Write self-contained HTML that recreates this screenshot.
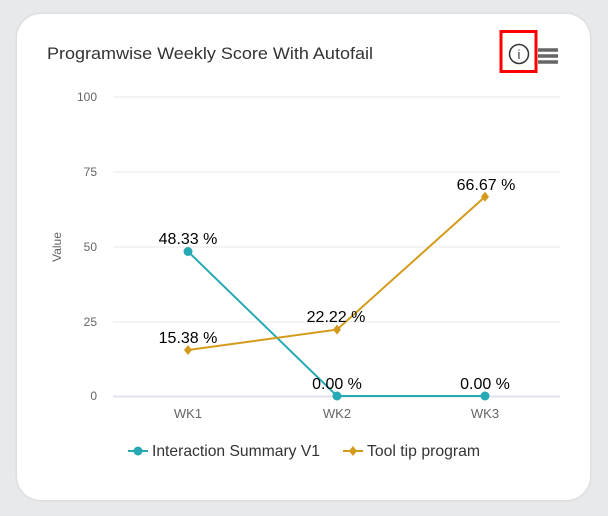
<!DOCTYPE html>
<html><head><style>
body{margin:0;width:608px;height:516px;background:#e8e9eb;overflow:hidden;font-family:"Liberation Sans",Arial,sans-serif}
.card{position:absolute;left:17px;top:14px;width:573px;height:486px;background:#fff;border-radius:24px;box-shadow:0 0 3px rgba(0,0,0,.12)}
</style></head><body>
<div class="card"></div>
<svg width="608" height="516" style="position:absolute;left:0;top:0" font-family="Liberation Sans, Arial, sans-serif">
<text x="47" y="59" font-size="17" fill="#333" textLength="326" lengthAdjust="spacingAndGlyphs">Programwise Weekly Score With Autofail</text>
<rect x="501" y="31.5" width="35" height="40" fill="none" stroke="#f00" stroke-width="3"/>
<circle cx="519" cy="54" r="9.5" fill="none" stroke="#333" stroke-width="1.5"/>
<text x="519" y="59" font-size="13" text-anchor="middle" fill="#333">i</text>
<g stroke="#666" stroke-width="3.5"><line x1="538" y1="50" x2="558" y2="50"/><line x1="538" y1="56" x2="558" y2="56"/><line x1="538" y1="62" x2="558" y2="62"/></g>
<g stroke="#e8e8e8" stroke-width="1">
<line x1="113" y1="97" x2="560" y2="97"/><line x1="113" y1="172" x2="560" y2="172"/><line x1="113" y1="247" x2="560" y2="247"/><line x1="113" y1="322" x2="560" y2="322"/></g>
<line x1="113" y1="396.5" x2="560" y2="396.5" stroke="#dfe2ec" stroke-width="2"/>
<g font-size="12" fill="#666" text-anchor="end">
<text x="97" y="101">100</text><text x="97" y="176">75</text><text x="97" y="251">50</text><text x="97" y="326">25</text><text x="97" y="400">0</text></g>
<text x="0" y="0" font-size="12" fill="#666" text-anchor="middle" transform="translate(61,247) rotate(-90)">Value</text>
<g font-size="13" fill="#666" text-anchor="middle"><text x="188" y="418">WK1</text><text x="337" y="418">WK2</text><text x="485" y="418">WK3</text></g>
<polyline points="188,251.5 337,396 485,396" fill="none" stroke="#26a9b5" stroke-width="2"/>
<g fill="#26a9b5"><circle cx="188" cy="251.5" r="4.5"/><circle cx="337" cy="396" r="4.5"/><circle cx="485" cy="396" r="4.5"/></g>
<polyline points="188,350 337,329.6 485,196.7" fill="none" stroke="#d49b1b" stroke-width="2"/>
<g fill="#d49b1b"><path d="M188,345 l4,5 -4,5 -4,-5z"/><path d="M337,324.6 l4,5 -4,5 -4,-5z"/><path d="M485,191.7 l4,5 -4,5 -4,-5z"/></g>
<g font-size="16" fill="#000" text-anchor="middle">
<text x="188" y="244">48.33 %</text><text x="188" y="343">15.38 %</text><text x="336" y="322">22.22 %</text><text x="486" y="190">66.67 %</text>
<text x="337" y="389">0.00 %</text><text x="485" y="389">0.00 %</text></g>
<line x1="128" y1="451" x2="148" y2="451" stroke="#26a9b5" stroke-width="2"/><circle cx="138" cy="451" r="4.5" fill="#26a9b5"/>
<text x="152" y="456" font-size="16" fill="#333" textLength="168" lengthAdjust="spacingAndGlyphs">Interaction Summary V1</text>
<line x1="343" y1="451" x2="363" y2="451" stroke="#d49b1b" stroke-width="2"/><path d="M353,446 l4,5 -4,5 -4,-5z" fill="#d49b1b"/>
<text x="367" y="456" font-size="16" fill="#333" textLength="113" lengthAdjust="spacingAndGlyphs">Tool tip program</text>
</svg>
</body></html>
